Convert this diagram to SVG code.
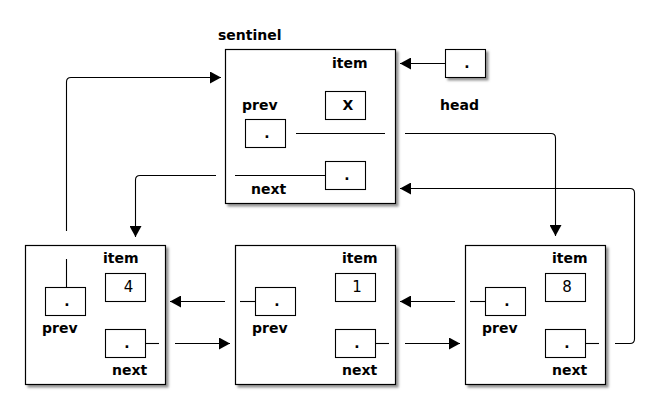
<svg xmlns="http://www.w3.org/2000/svg" width="660" height="420" viewBox="0 0 660 420">
<style>
.box{fill:#fff;stroke:#000;stroke-width:1.2;filter:url(#sh)}
.cell{fill:#fff;stroke:#000;stroke-width:1.1}
.ln{fill:none;stroke:#000;stroke-width:1.1}
.t{font-family:"DejaVu Sans",sans-serif;font-weight:bold;font-size:14px;fill:#000}
.v{font-family:"DejaVu Sans",sans-serif;font-weight:normal;font-size:15px;fill:#000;text-anchor:middle}
.c{text-anchor:middle}
</style>
<defs>
<filter id="sh" x="-10%" y="-10%" width="130%" height="130%">
<feDropShadow dx="2.5" dy="2.5" stdDeviation="1.2" flood-color="#777" flood-opacity="0.8"/>
</filter>
<marker id="ah" markerWidth="11" markerHeight="12" refX="11" refY="6" orient="auto" markerUnits="userSpaceOnUse">
<path d="M0,0 L11,6 L0,12 Z" fill="#000"/>
</marker>
</defs>
<text class="t" x="218" y="40">sentinel</text>
<g id="sentinel">
<rect class="box" x="225.5" y="49.5" width="170" height="154"/>
<text class="t" x="332" y="68">item</text>
<rect class="cell" x="325.5" y="91.5" width="40" height="28"/>
<text class="t c" x="348" y="110">X</text>
<text class="t" x="242" y="110">prev</text>
<rect class="cell" x="245.5" y="119.5" width="40" height="28"/>
<text class="t c" x="267" y="138">.</text>
<rect class="cell" x="325.5" y="161.5" width="40" height="28"/>
<text class="t c" x="347" y="180">.</text>
<text class="t" x="251" y="194">next</text>
</g>
<g id="head">
<rect class="cell" x="445.5" y="49.5" width="40" height="28" style="filter:url(#sh)"/>
<text class="t c" x="467" y="68">.</text>
<text class="t" x="440" y="110">head</text>
</g>
<g id="node4">
<rect class="box" x="25.5" y="245.5" width="140" height="139"/>
<text class="t" x="103" y="263">item</text>
<rect class="cell" x="105.5" y="273.5" width="40" height="28"/>
<text class="v" x="128.5" y="292">4</text>
<rect class="cell" x="45.5" y="287.5" width="40" height="28"/>
<text class="t c" x="67" y="306">.</text>
<text class="t" x="42" y="333">prev</text>
<rect class="cell" x="105.5" y="329.5" width="40" height="28"/>
<text class="t c" x="127" y="348">.</text>
<text class="t" x="112" y="375">next</text>
</g>
<g id="node1">
<rect class="box" x="235.5" y="245.5" width="160" height="139"/>
<text class="t" x="342" y="263">item</text>
<rect class="cell" x="335.5" y="273.5" width="40" height="28"/>
<text class="v" x="357" y="292">1</text>
<rect class="cell" x="255.5" y="287.5" width="40" height="28"/>
<text class="t c" x="277" y="306">.</text>
<text class="t" x="252" y="333">prev</text>
<rect class="cell" x="335.5" y="329.5" width="40" height="28"/>
<text class="t c" x="357" y="348">.</text>
<text class="t" x="342" y="375">next</text>
</g>
<g id="node8">
<rect class="box" x="465.5" y="245.5" width="140" height="139"/>
<text class="t" x="552" y="263">item</text>
<rect class="cell" x="545.5" y="273.5" width="40" height="28"/>
<text class="v" x="567" y="292">8</text>
<rect class="cell" x="485.5" y="287.5" width="40" height="28"/>
<text class="t c" x="507" y="306">.</text>
<text class="t" x="482" y="333">prev</text>
<rect class="cell" x="545.5" y="329.5" width="40" height="28"/>
<text class="t c" x="567" y="348">.</text>
<text class="t" x="552" y="375">next</text>
</g>
<g id="connectors">
<path class="ln" d="M445,63.5 H400" marker-end="url(#ah)"/>
<path class="ln" d="M66.5,231 V82 Q66.5,77.5 71,77.5 H221" marker-end="url(#ah)"/>
<path class="ln" d="M66.5,259 V287"/>
<path class="ln" d="M235,175.5 H325"/>
<path class="ln" d="M216,175.5 H140 Q135.5,175.5 135.5,180 V237" marker-end="url(#ah)"/>
<path class="ln" d="M296,133.5 H385"/>
<path class="ln" d="M405,133.5 H551 Q555.5,133.5 555.5,138 V236" marker-end="url(#ah)"/>
<path class="ln" d="M615,343.5 H630 Q634.5,343.5 634.5,339 V193 Q634.5,188.5 630,188.5 H400" marker-end="url(#ah)"/>
<path class="ln" d="M145,343.5 H159"/>
<path class="ln" d="M175,343.5 H230" marker-end="url(#ah)"/>
<path class="ln" d="M225,301.5 H170" marker-end="url(#ah)"/>
<path class="ln" d="M240,301.5 H255"/>
<path class="ln" d="M375,343.5 H389"/>
<path class="ln" d="M405,343.5 H460" marker-end="url(#ah)"/>
<path class="ln" d="M455,301.5 H400" marker-end="url(#ah)"/>
<path class="ln" d="M470,301.5 H485"/>
<path class="ln" d="M585,343.5 H599"/>
</g>
</svg>
